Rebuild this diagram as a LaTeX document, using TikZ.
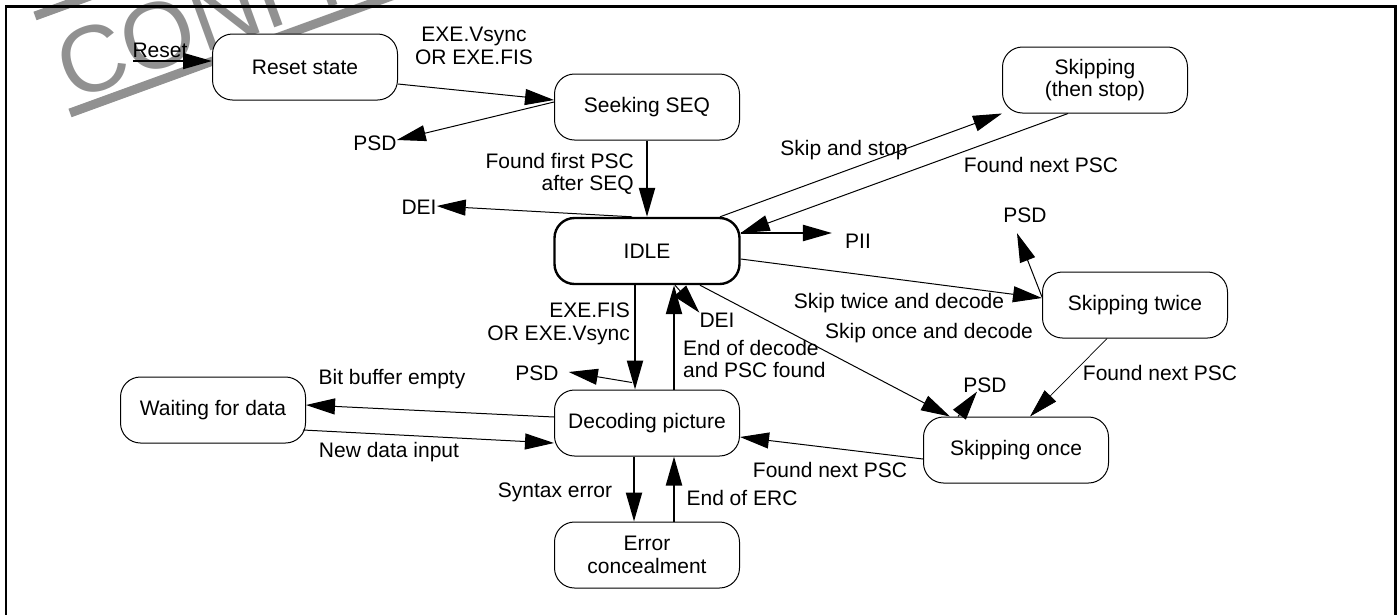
\documentclass[tikz,border=0pt]{standalone}
\usepackage{fontspec}
\setmainfont{Liberation Sans}
\usetikzlibrary{arrows.meta}
\definecolor{wmgray}{RGB}{145,145,145}
\tikzset{
  state/.style={draw, line width=1pt, rounded corners=20pt, fill=white,
    minimum width=185pt, minimum height=66pt, inner sep=0pt, align=center,
    font=\fontsize{21pt}{22.5pt}\selectfont},
  idlestate/.style={state, line width=2.4pt},
  lbl/.style={inner sep=0pt, font=\fontsize{21pt}{22.5pt}\selectfont},
  tr/.style={line width=1pt, -{Triangle[length=29pt,width=16pt]}},
  thicktr/.style={tr, line width=2.2pt},
  thintr/.style={tr, line width=0.7pt},
}
\begin{document}
\begin{tikzpicture}[x=1pt,y=-1pt]
\useasboundingbox (0,0) rectangle (1399,614);
\begin{scope}
  \clip (0,0) rectangle (1399,614);
  \draw[wmgray, line width=9pt] (70,113) -- ++(470,-171);
  \draw[wmgray, line width=9pt] (35,16) -- ++(188,-68.4);
  \node[rotate=20, anchor=base west, inner sep=0pt, text=wmgray,
        font=\fontsize{94pt}{94pt}\selectfont] (wm) at (71,102) {CONFIDENTIAL};
  \draw[line width=2.5pt] (6,6.5) rectangle (1395.5,650);
\end{scope}

% states
\node[state] (reset) at (305,67) {Reset state};
\node[state] (seek) at (647,107) {Seeking SEQ};
\node[state] (skipstop) at (1095,80) {Skipping\\(then stop)};
\node[idlestate] (idle) at (647,251) {IDLE};
\node[state] (twice) at (1135,305) {Skipping twice};
\node[state] (once) at (1016,450) {Skipping once};
\node[state] (decode) at (647,423) {Decoding picture};
\node[state] (wait) at (213,410) {Waiting for data};
\node[state] (error) at (647,555) {Error\\concealment};

% output labels
\node[lbl] (psd1) at (375,143) {PSD};
\node[lbl] (dei1) at (419,207) {DEI};
\node[lbl] (pii) at (858,241) {PII};
\node[lbl] (psd2) at (1025,215) {PSD};
\node[lbl] (psd3) at (985,385) {PSD};
\node[lbl] (dei2) at (717,320) {DEI};
\node[lbl] (psd4) at (537,373) {PSD};

% transition labels
\node[lbl] (lreset) at (160,50) {Reset};
\node[lbl, align=center] (lexe1) at (474,46) {EXE.Vsync\\OR EXE.FIS};
\node[lbl, align=right, anchor=east] (lfound1) at (634,174) {Found first PSC\\after SEQ};
\node[lbl] (lskipstop) at (844,150) {Skip and stop};
\node[lbl] (lfound2) at (1041,165) {Found next PSC};
\node[lbl] (lskiptwice) at (899,303) {Skip twice and decode};
\node[lbl] (lskiponce) at (929,333) {Skip once and decode};
\node[lbl] (lfound3) at (1160,373) {Found next PSC};
\node[lbl] (lfound4) at (830,470) {Found next PSC};
\node[lbl, align=right, anchor=east] (lexe2) at (630,324) {EXE.FIS\\OR EXE.Vsync};
\node[lbl, align=left, anchor=west] (lend) at (683,359) {End of decode\\and PSC found};
\node[lbl] (lbit) at (392,379) {Bit buffer empty};
\node[lbl] (lnew) at (389,452) {New data input};
\node[lbl] (lsyntax) at (555,492) {Syntax error};
\node[lbl] (lerc) at (742,498) {End of ERC};

% connectors
\coordinate (rst0) at (133,61);
\draw[thicktr] (rst0) -- ([yshift=6pt]reset.west);
\draw[tr] ([yshift=-17pt]reset.east) -- ([yshift=7pt]seek.west);
\draw[tr] ([yshift=5pt]seek.west) -- ([yshift=3pt]psd1.east);
\draw[thicktr] (seek.south) -- (idle.north);
\draw[tr] ([xshift=-15pt]idle.north) -- ([yshift=1pt]dei1.east);
\draw[tr] ([xshift=73pt]idle.north) -- (skipstop.south west);
\draw[tr] ([xshift=-27pt]skipstop.south) -- ([yshift=18pt]idle.east);
\draw[thicktr] ([yshift=18pt]idle.east) -- ([xshift=-13pt,yshift=8pt]pii.west);
\draw[tr] ([yshift=-8pt]idle.east) -- ([yshift=7pt]twice.west);
\draw[tr] ([yshift=8pt]twice.west) -- ([xshift=-8pt,yshift=-10.5pt]psd2.south);
\draw[tr] ([xshift=53pt]idle.south) -- ([xshift=-66pt]once.north);
\draw[thintr] ([xshift=-28pt]twice.south) -- ([xshift=14pt]once.north);
\draw[tr] ([xshift=-58pt]once.north) -- ([xshift=-8pt,yshift=1pt]psd3.south);
\draw[tr] ([yshift=-9pt]once.west) -- ([yshift=-14pt]decode.east);
\draw[thicktr] ([xshift=-12pt]idle.south) -- ([xshift=-12pt]decode.north);
\draw[thicktr] ([xshift=27pt]decode.north) -- ([xshift=27pt]idle.south);
\draw[tr] ([xshift=28pt]idle.south) -- (dei2.north west);
\draw[tr] ([xshift=-15pt,yshift=7pt]decode.north) -- ([xshift=10pt,yshift=1pt]psd4.east);
\draw[tr] ([yshift=6pt]decode.west) -- ([yshift=5pt]wait.east);
\draw[tr] ([yshift=-20pt,xshift=-3pt]wait.east) -- ([yshift=-20pt]decode.west);
\draw[thicktr] ([xshift=-13pt]decode.south) -- ([xshift=-13pt]error.north);
\draw[thicktr] ([xshift=27pt]error.north) -- ([xshift=27pt]decode.south);
\end{tikzpicture}
\end{document}
